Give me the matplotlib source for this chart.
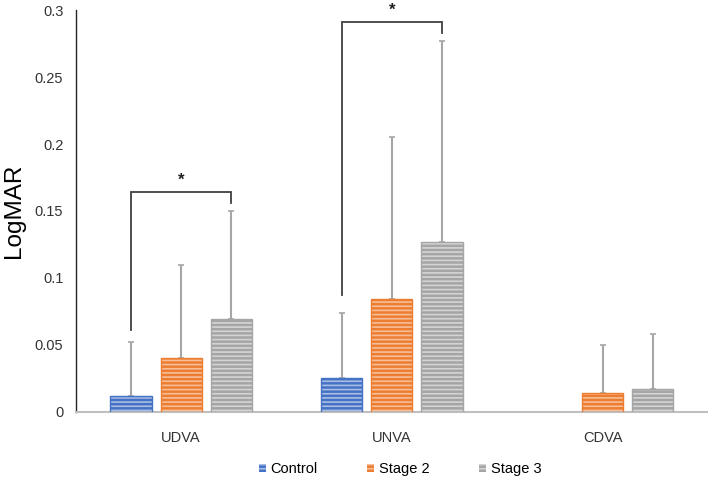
import numpy as np
import matplotlib.pyplot as plt
from matplotlib.patches import Patch

plt.rcParams['font.family'] = ['Liberation Sans', 'DejaVu Sans']
plt.rcParams['hatch.linewidth'] = 1.2

categories = ['UDVA', 'UNVA', 'CDVA']
groups = ['Control', 'Stage 2', 'Stage 3']

control_mean = [0.012, 0.025, 0.0]
stage2_mean = [0.040, 0.084, 0.014]
stage3_mean = [0.069, 0.127, 0.017]

control_sd = [0.040, 0.049, 0.0]
stage2_sd = [0.070, 0.121, 0.036]
stage3_sd = [0.081, 0.150, 0.041]

# significance brackets: (category, left y bottom, right y bottom, top y)
brackets = [(0, 0.061, 0.156, 0.164), (1, 0.0875, 0.283, 0.291)]


def main():
    means = [control_mean, stage2_mean, stage3_mean]
    sds = [control_sd, stage2_sd, stage3_sd]
    colors = ['#4472C4', '#ED7D31', '#A5A5A5']
    stripes = ['#A9BDE6', '#F7BE98', '#D4D4D4']

    fig = plt.figure(figsize=(7.08, 4.8), dpi=100)
    ax = fig.add_axes([0.107, 0.142, 0.893, 0.837])

    x = np.arange(len(categories))
    offsets = [-0.238, 0.0, 0.238]
    width = 0.195

    for m, s, off, c, sc in zip(means, sds, offsets, colors, stripes):
        m = np.array(m)
        s = np.array(s)
        keep = m > 0
        ax.bar(x[keep] + off, m[keep], width, color=c, edgecolor=sc,
               hatch='----', linewidth=0, zorder=2)
        ax.bar(x[keep] + off, m[keep], width, fill=False, edgecolor=c,
               linewidth=1.0, zorder=3)
        ax.errorbar(x[keep] + off, m[keep], yerr=[np.zeros(keep.sum()), s[keep]],
                    fmt='none', ecolor='#A6A6A6', elinewidth=1.5, capsize=2.3,
                    capthick=1.2, zorder=1)

    for cat, yl, yr, yt in brackets:
        xl = cat + offsets[0]
        xr = cat + offsets[2]
        ax.plot([xl, xl, xr, xr], [yl, yt, yt, yr], color='#404040', lw=1.3,
                solid_joinstyle='miter', zorder=4)
        ax.text((xl + xr) / 2, yt + 0.003, '*', ha='center', va='bottom',
                fontsize=12, fontweight='bold', color='#202020')

    ax.set_xlim(-0.5, 2.5)
    ax.set_ylim(0, 0.3)
    ax.set_yticks([0, 0.05, 0.1, 0.15, 0.2, 0.25, 0.3])
    ax.set_yticklabels(['0', '0.05', '0.1', '0.15', '0.2', '0.25', '0.3'])
    ax.set_xticks(x)
    ax.set_xticklabels(categories)
    ax.tick_params(axis='both', length=0, labelsize=10.5, colors='#333333')
    ax.tick_params(axis='y', pad=9)
    ax.tick_params(axis='x', pad=14)
    ax.set_ylabel('LogMAR', fontsize=17.5)
    ax.yaxis.set_label_coords(-0.080, 0.5)

    ax.spines['top'].set_visible(False)
    ax.spines['right'].set_visible(False)
    ax.spines['left'].set_color('#262626')
    ax.spines['left'].set_linewidth(1.0)
    ax.spines['bottom'].set_color('#BFBFBF')
    ax.spines['bottom'].set_linewidth(1.5)

    handles = [Patch(facecolor=c, edgecolor=sc, hatch='----', linewidth=0)
               for c, sc in zip(colors, stripes)]
    fig.legend(handles, groups, loc='center', bbox_to_anchor=(0.565, 0.023),
               ncol=3, frameon=False, fontsize=10.5, handlelength=0.5,
               handleheight=0.5, handletextpad=0.3, columnspacing=3.4)

    fig.savefig('out.png', dpi=100)
    plt.close(fig)


if __name__ == '__main__':
    main()
